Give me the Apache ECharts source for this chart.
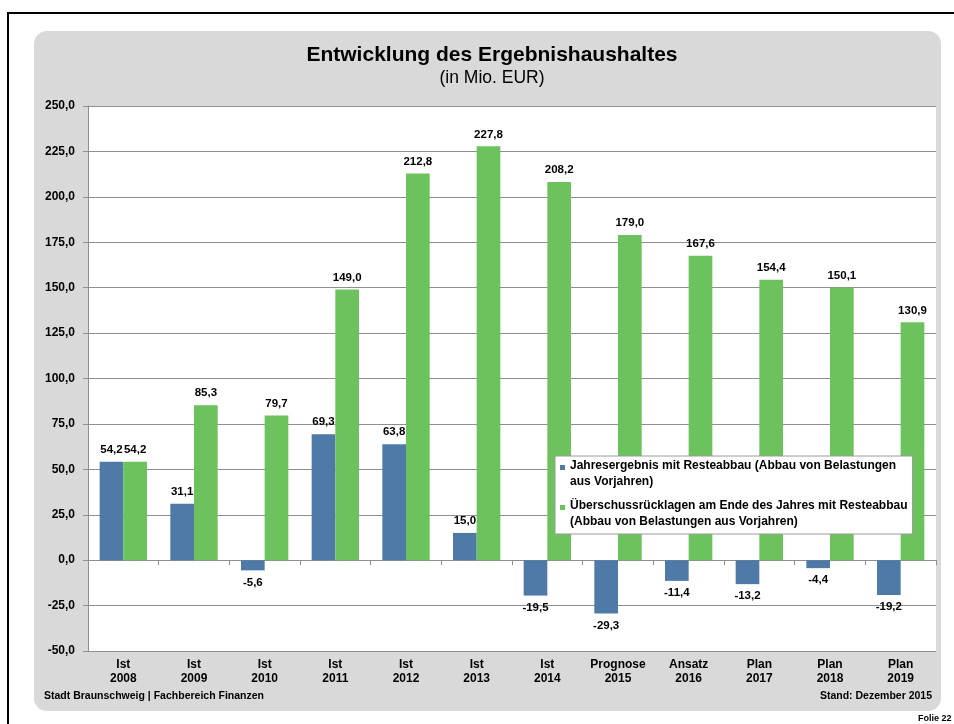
<!DOCTYPE html>
<html>
<head>
<meta charset="utf-8">
<title>Entwicklung des Ergebnishaushaltes</title>
<script src="https://cdn.jsdelivr.net/npm/echarts@6/dist/echarts.min.js"></script>
<style>
    html, body { margin: 0; padding: 0; background: #fff; }
    #topline { position: absolute; left: 7px; top: 12px; width: 947px; height: 2px; background: #000; }
    #leftline { position: absolute; left: 7px; top: 12px; width: 2px; height: 712px; background: #000; }
    #panel { position: absolute; left: 34px; top: 31px; width: 907px; height: 680px; background: #d9d9d9; border-radius: 13px; }
    #chart { position: absolute; left: 0; top: 0; width: 954px; height: 724px; }
</style>
</head>
<body>
<div id="topline"></div>
<div id="leftline"></div>
<div id="panel"></div>
<div id="chart"></div>
<script>
// kategorien
var kategorieArt = ['Ist', 'Ist', 'Ist', 'Ist', 'Ist', 'Ist', 'Ist', 'Prognose', 'Ansatz', 'Plan', 'Plan', 'Plan'];
var jahre = ['2008', '2009', '2010', '2011', '2012', '2013', '2014', '2015', '2016', '2017', '2018', '2019'];

// werte in Mio. EUR
var jahresergebnis = [54.2, 31.1, -5.6, 69.3, 63.8, 15.0, -19.5, -29.3, -11.4, -13.2, -4.4, -19.2];
var ruecklagen = [54.2, 85.3, 79.7, 149.0, 212.8, 227.8, 208.2, 179.0, 167.6, 154.4, 150.1, 130.9];

// y achse
var yMin = -50;
var yMax = 250;
var yStep = 25;

var nameJahresergebnis = 'Jahresergebnis mit Resteabbau (Abbau von Belastungen aus Vorjahren)';
var nameRuecklagen = 'Überschussrücklagen am Ende des Jahres mit Resteabbau (Abbau von Belastungen aus Vorjahren)';
var legendText = {};
legendText[nameJahresergebnis] = 'Jahresergebnis mit Resteabbau (Abbau von Belastungen\naus Vorjahren)';
legendText[nameRuecklagen] = 'Überschussrücklagen am Ende des Jahres mit Resteabbau\n(Abbau von Belastungen aus Vorjahren)';

var FONT = '"Liberation Sans", Arial, sans-serif';
var GRID_COLOR = '#8f8f8f';

function fmt(v) {
    return v.toFixed(1).replace('.', ',');
}

var labels = kategorieArt.map(function (k, i) {
    return k + '\n' + jahre[i];
});

function withLabels(arr) {
    return arr.map(function (v) {
        return { value: v, label: { position: v < 0 ? 'bottom' : 'top' } };
    });
}

var barLabel = {
    show: true,
    color: '#000',
    fontFamily: FONT,
    fontWeight: 'bold',
    fontSize: 11.5,
    distance: 6,
    formatter: function (p) { return fmt(p.value); }
};

var myChart = echarts.init(document.getElementById('chart'), null, { renderer: 'canvas' });

var option = {
    animation: false,
    textStyle: { fontFamily: FONT },
    title: [{
        text: 'Entwicklung des Ergebnishaushaltes',
        left: 487,
        top: 40,
        textAlign: 'center',
        textStyle: { fontFamily: FONT, fontSize: 21, fontWeight: 'bold', color: '#000' }
    }, {
        text: '(in Mio. EUR)',
        left: 487,
        top: 64,
        textAlign: 'center',
        textStyle: { fontFamily: FONT, fontSize: 17.5, fontWeight: 'normal', color: '#000' }
    }],
    legend: {
        orient: 'vertical',
        left: 555,
        top: 456,
        padding: [2, 5, 4, 5],
        itemGap: 8,
        itemWidth: 5,
        itemHeight: 32,
        symbolKeepAspect: false,
        icon: 'path://M0,7H5V12H0Z M0,0H0.01V0.01H0Z M0,32H0.01V32.01H0Z',
        backgroundColor: '#fff',
        borderColor: '#9a9a9a',
        borderWidth: 1,
        borderRadius: 0,
        selectedMode: false,
        formatter: function (name) { return legendText[name]; },
        textStyle: { fontFamily: FONT, fontWeight: 'bold', fontSize: 12, color: '#000', lineHeight: 16 },
        data: [nameJahresergebnis, nameRuecklagen]
    },
    grid: {
        left: 88,
        right: 18,
        top: 106,
        bottom: 73,
        show: true,
        backgroundColor: '#fff',
        borderWidth: 0
    },
    xAxis: [{
        type: 'category',
        data: labels,
        position: 'bottom',
        axisLine: { show: false, onZero: false },
        axisTick: { show: false },
        axisLabel: {
            interval: 0,
            margin: 7,
            color: '#000',
            fontFamily: FONT,
            fontWeight: 'bold',
            fontSize: 12,
            lineHeight: 14
        },
        splitLine: { show: false }
    }, {
        type: 'category',
        data: labels,
        position: 'bottom',
        axisLine: { show: true, onZero: true, lineStyle: { color: GRID_COLOR, width: 1 } },
        axisTick: { show: true, interval: 0, length: 5, lineStyle: { color: GRID_COLOR } },
        axisLabel: { show: false },
        splitLine: { show: false }
    }],
    yAxis: {
        type: 'value',
        min: yMin,
        max: yMax,
        interval: yStep,
        axisLine: { show: true, lineStyle: { color: GRID_COLOR } },
        axisTick: { show: true, length: 5, lineStyle: { color: GRID_COLOR } },
        axisLabel: {
            margin: 13,
            color: '#000',
            fontFamily: FONT,
            fontWeight: 'bold',
            fontSize: 12,
            formatter: function (v) { return fmt(v); }
        },
        splitLine: { show: true, lineStyle: { color: GRID_COLOR, width: 1 } }
    },
    series: [{
        name: nameJahresergebnis,
        type: 'bar',
        xAxisIndex: 0,
        barGap: '0%',
        barCategoryGap: '33%',
        itemStyle: { color: '#4f7aa8' },
        label: barLabel,
        data: withLabels(jahresergebnis),
        z: 3
    }, {
        name: nameRuecklagen,
        type: 'bar',
        xAxisIndex: 0,
        barGap: '0%',
        barCategoryGap: '33%',
        itemStyle: { color: '#6cc25c' },
        label: barLabel,
        data: withLabels(ruecklagen),
        z: 3
    }],
    graphic: [{
        type: 'text',
        left: 44,
        top: 691,
        style: { text: 'Stadt Braunschweig | Fachbereich Finanzen', fontFamily: FONT, fontWeight: 'bold', fontSize: 10.5, fill: '#000' }
    }, {
        type: 'text',
        right: 22,
        top: 691,
        style: { text: 'Stand: Dezember 2015', fontFamily: FONT, fontWeight: 'bold', fontSize: 10.5, fill: '#000' }
    }, {
        type: 'text',
        left: 918,
        top: 714,
        style: { text: 'Folie 22', fontFamily: FONT, fontWeight: 'bold', fontSize: 9, fill: '#000' }
    }]
};

myChart.setOption(option);
</script>
</body>
</html>
